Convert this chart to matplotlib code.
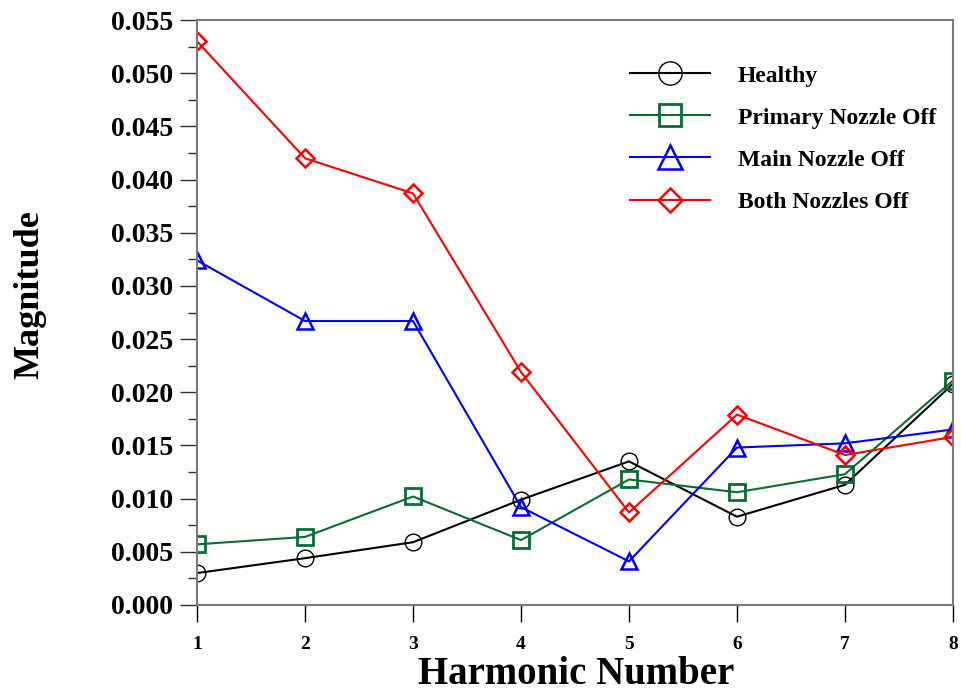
import matplotlib
matplotlib.use("Agg")
import matplotlib.pyplot as plt
from matplotlib.ticker import MultipleLocator, FormatStrFormatter

harmonics = [1, 2, 3, 4, 5, 6, 7, 8]
healthy = [0.0030, 0.0044, 0.0059, 0.0099, 0.0135, 0.0083, 0.0113, 0.0208]
primary_off = [0.0057, 0.0064, 0.0102, 0.0061, 0.0118, 0.0106, 0.0123, 0.0211]
main_off = [0.0324, 0.0267, 0.0267, 0.0092, 0.0041, 0.0148, 0.0152, 0.0165]
both_off = [0.0530, 0.0420, 0.0387, 0.0219, 0.0087, 0.0179, 0.0141, 0.0158]
labels = ["Healthy", "Primary Nozzle Off", "Main Nozzle Off", "Both Nozzles Off"]

plt.rcParams['font.family'] = ['Liberation Serif', 'DejaVu Serif']
plt.rcParams['font.weight'] = 'bold'

fig = plt.figure(figsize=(9.62, 6.91), dpi=100)
ax = fig.add_axes([0.2048, 0.1245, 0.7858, 0.8465])

ax.plot(harmonics, healthy, color='black', lw=1.5, marker='o', ms=12, mfc='none', mec='black', mew=1.0, label=labels[0])
ax.plot(harmonics, primary_off, color='#0a6b35', lw=1.5, marker='s', ms=11, mfc='none', mec='#0a6b35', mew=2.0, label=labels[1])
ax.plot(harmonics, main_off, color='blue', lw=1.5, marker='^', ms=12, mfc='none', mec='blue', mew=1.8, label=labels[2])
ax.plot(harmonics, both_off, color='red', lw=1.5, marker='D', ms=9, mfc='none', mec='red', mew=1.8, label=labels[3])

ax.set_xlim(1, 8)
ax.set_ylim(0, 0.055)
ax.xaxis.set_major_locator(MultipleLocator(1))
ax.yaxis.set_major_locator(MultipleLocator(0.005))
ax.yaxis.set_minor_locator(MultipleLocator(0.0025))
ax.yaxis.set_major_formatter(FormatStrFormatter('%.3f'))

for s in ax.spines.values():
    s.set_color('#7a7a7a')
    s.set_linewidth(1.5)

ax.tick_params(axis='y', which='major', direction='out', length=12, width=1.0, color='#303030', labelsize=20, pad=5)
ax.tick_params(axis='y', which='minor', direction='out', length=6.5, width=1.0, color='#303030')
ax.tick_params(axis='x', which='major', direction='out', length=12, width=1.0, color='black', labelsize=14, pad=10)

ax.set_xlabel("Harmonic Number", fontsize=28, fontweight='bold')
ax.xaxis.set_label_coords(0.502, -0.088)
ax.set_ylabel("Magnitude", fontsize=26, fontweight='bold')
ax.yaxis.set_label_coords(-0.199, 0.53)

leg = ax.legend(loc='upper left', bbox_to_anchor=(0.573, 0.923), frameon=False, fontsize=17,
                handlelength=3.4, handletextpad=1.15, labelspacing=0.87,
                borderpad=0, borderaxespad=0, markerscale=1.4)
for t in leg.get_texts():
    t.set_fontweight('bold')

fig.savefig("out.png", dpi=100)
